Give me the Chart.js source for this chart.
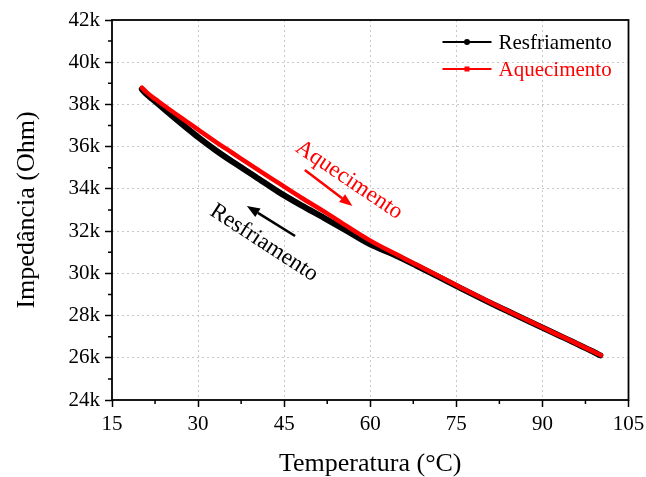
<!DOCTYPE html>
<html>
<head>
<meta charset="utf-8">
<script src="https://cdn.jsdelivr.net/npm/chart.js@4/dist/chart.umd.min.js"></script>
<style>
  html, body { margin: 0; padding: 0; background: #fff; }
  #chart { display: block; }
</style>
</head>
<body>
<canvas id="chart" width="646" height="477"></canvas>
<script>
// Impedance vs temperature, cooling (black) and heating (red) runs
const tempResf = [20.2, 21, 22, 23, 24, 26, 28, 30, 33, 36, 40, 44, 48, 52, 56, 60, 64, 68, 72, 76, 80, 84, 88, 92, 94, 96, 98, 99.2, 100.1]
const impResf  = [38720, 38490, 38260, 38030, 37800, 37340, 36890, 36450, 35840, 35280, 34580, 33860, 33220, 32620, 32000, 31370, 30900, 30370, 29820, 29260, 28720, 28200, 27680, 27170, 26920, 26660, 26400, 26240, 26110]

const tempAquec = [20.2, 21, 22, 23, 24, 26, 28, 30, 33, 36, 40, 44, 48, 52, 56, 60, 64, 68, 72, 76, 80, 84, 88, 92, 94, 96, 98, 99.2, 100.2]
const impAquec  = [38800, 38580, 38360, 38160, 37960, 37570, 37190, 36810, 36240, 35700, 34980, 34280, 33580, 32920, 32220, 31550, 30970, 30420, 29860, 29290, 28750, 28220, 27700, 27180, 26930, 26670, 26410, 26250, 26120]

const xTicks = [15, 30, 45, 60, 75, 90, 105]
const yTicks = [24000, 26000, 28000, 30000, 32000, 34000, 36000, 38000, 40000, 42000]
const xMinor = [22.5, 37.5, 52.5, 67.5, 82.5, 97.5]
const yMinor = [25000, 27000, 29000, 31000, 33000, 35000, 37000, 39000, 41000]

const FONT = "'Liberation Serif', 'Times New Roman', serif"

const toXY = (xs, ys) => xs.map((x, i) => ({ x, y: ys[i] }))

// arrows + rotated captions, anchored in data units
const notes = [
  { text: 'Aquecimento',  color: '#ff0000', at: [56.3, 34420], angle: 34, arrow: [[48.6, 34900], [56.9, 33190]] },
  { text: 'Resfriamento', color: '#000000', at: [41.5, 31440], angle: 33, arrow: [[46.9, 31770], [38.5, 33190]] }
]

const whiteBg = {
  id: 'whiteBg',
  beforeDraw(chart) {
    const c = chart.ctx
    c.save(); c.fillStyle = '#fff'; c.fillRect(0, 0, chart.width, chart.height); c.restore()
  }
}

const frame = {
  id: 'frame',
  afterDraw(chart) {
    const { ctx: c, chartArea: a, scales: { x, y } } = chart
    c.save()
    c.strokeStyle = '#000'
    c.lineWidth = 1.5
    // minor ticks, outside
    c.beginPath()
    xMinor.forEach(v => { const px = x.getPixelForValue(v); c.moveTo(px, a.bottom); c.lineTo(px, a.bottom + 4) })
    yMinor.forEach(v => { const py = y.getPixelForValue(v); c.moveTo(a.left, py); c.lineTo(a.left - 4, py) })
    c.stroke()
    c.lineWidth = 1.8
    c.strokeRect(a.left, a.top, a.right - a.left, a.bottom - a.top)
    c.restore()
  }
}

const annot = {
  id: 'annot',
  afterDatasetsDraw(chart) {
    const { ctx: c, scales: { x, y } } = chart
    notes.forEach(n => {
      const [p0, p1] = n.arrow.map(([a, b]) => [x.getPixelForValue(a), y.getPixelForValue(b)])
      const ang = Math.atan2(p1[1] - p0[1], p1[0] - p0[0])
      const head = 13, half = 5
      c.save()
      c.strokeStyle = n.color; c.fillStyle = n.color
      c.lineWidth = 2.5
      c.beginPath()
      c.moveTo(p0[0], p0[1])
      c.lineTo(p1[0] - Math.cos(ang) * head, p1[1] - Math.sin(ang) * head)
      c.stroke()
      c.translate(p1[0], p1[1]); c.rotate(ang)
      c.beginPath(); c.moveTo(0, 0); c.lineTo(-head, -half); c.lineTo(-head, half); c.closePath(); c.fill()
      c.restore()

      c.save()
      c.translate(x.getPixelForValue(n.at[0]), y.getPixelForValue(n.at[1]))
      c.rotate(n.angle * Math.PI / 180)
      c.font = `23px ${FONT}`
      c.fillStyle = n.color
      c.textAlign = 'center'; c.textBaseline = 'middle'
      c.fillText(n.text, 0, 0)
      c.restore()
    })
  }
}

const legendBox = {
  id: 'legendBox',
  afterDraw(chart) {
    const c = chart.ctx
    const a = chart.chartArea
    const x0 = a.right - 186, x1 = a.right - 137, xm = (x0 + x1) / 2
    const rows = [
      { label: 'Resfriamento', color: '#000', y: a.top + 22, marker: 'circle' },
      { label: 'Aquecimento',  color: '#ff0000', y: a.top + 49, marker: 'square' }
    ]
    c.save()
    rows.forEach(r => {
      c.strokeStyle = r.color; c.fillStyle = r.color; c.lineWidth = 2
      c.beginPath(); c.moveTo(x0, r.y); c.lineTo(x1, r.y); c.stroke()
      if (r.marker === 'circle') { c.beginPath(); c.arc(xm, r.y, 3, 0, Math.PI * 2); c.fill() }
      else c.fillRect(xm - 2.5, r.y - 2.5, 5, 5)
      c.font = `21px ${FONT}`
      c.textAlign = 'left'; c.textBaseline = 'middle'
      c.fillText(r.label, x1 + 7, r.y + 1)
    })
    c.restore()
  }
}

const gridColor = ctx => {
  const v = ctx.tick && ctx.tick.value
  const s = ctx.scale
  return (v === s.min || v === s.max) ? 'rgba(0,0,0,0)' : '#c8c8c8'
}

new Chart(document.getElementById('chart'), {
  type: 'scatter',
  data: {
    datasets: [
      { label: 'Aquecimento', data: toXY(tempAquec, impAquec), showLine: true, borderColor: '#ff0000', backgroundColor: '#ff0000',
        borderWidth: 4.5, pointRadius: 0, cubicInterpolationMode: 'monotone', borderCapStyle: 'round', borderJoinStyle: 'round', order: 0 },
      { label: 'Resfriamento', data: toXY(tempResf, impResf), showLine: true, borderColor: '#000', backgroundColor: '#000',
        borderWidth: 6, pointRadius: 0, cubicInterpolationMode: 'monotone', borderCapStyle: 'round', borderJoinStyle: 'round', order: 1 }
    ]
  },
  options: {
    responsive: false,
    animation: false,
    devicePixelRatio: 1,
    layout: { padding: { top: 20, right: 17.5, left: 0, bottom: 0 } },
    plugins: { legend: { display: false }, tooltip: { enabled: false } },
    scales: {
      x: {
        type: 'linear', min: 15, max: 105,
        afterBuildTicks: s => { s.ticks = xTicks.map(v => ({ value: v })) },
        // fixed box; end labels may spill into the margins
        afterFit: s => { s.height = 77; s.paddingLeft = 0; s.paddingRight = 0 },
        ticks: { color: '#000', font: { family: FONT, size: 21 }, padding: 5, maxRotation: 0 },
        grid: { color: gridColor, lineWidth: 1, tickLength: 7, tickColor: '#000', tickWidth: 1.5 },
        border: { display: false, dash: [2, 3] },
        title: { display: true, text: 'Temperatura (°C)', color: '#000', font: { family: FONT, size: 26 }, padding: { top: 0, bottom: -3 } }
      },
      y: {
        type: 'linear', min: 24000, max: 42000,
        afterBuildTicks: s => { s.ticks = yTicks.map(v => ({ value: v })) },
        afterFit: s => { s.width = 112 },
        ticks: { color: '#000', font: { family: FONT, size: 21 }, padding: 5, callback: v => (v / 1000) + 'k' },
        grid: { color: gridColor, lineWidth: 1, tickLength: 7, tickColor: '#000', tickWidth: 1.5 },
        border: { display: false, dash: [2, 3] },
        title: { display: true, text: 'Impedância (Ohm)', color: '#000', font: { family: FONT, size: 26 }, padding: { top: 12, bottom: 0 } }
      }
    }
  },
  plugins: [whiteBg, annot, frame, legendBox]
})
</script>
</body>
</html>
